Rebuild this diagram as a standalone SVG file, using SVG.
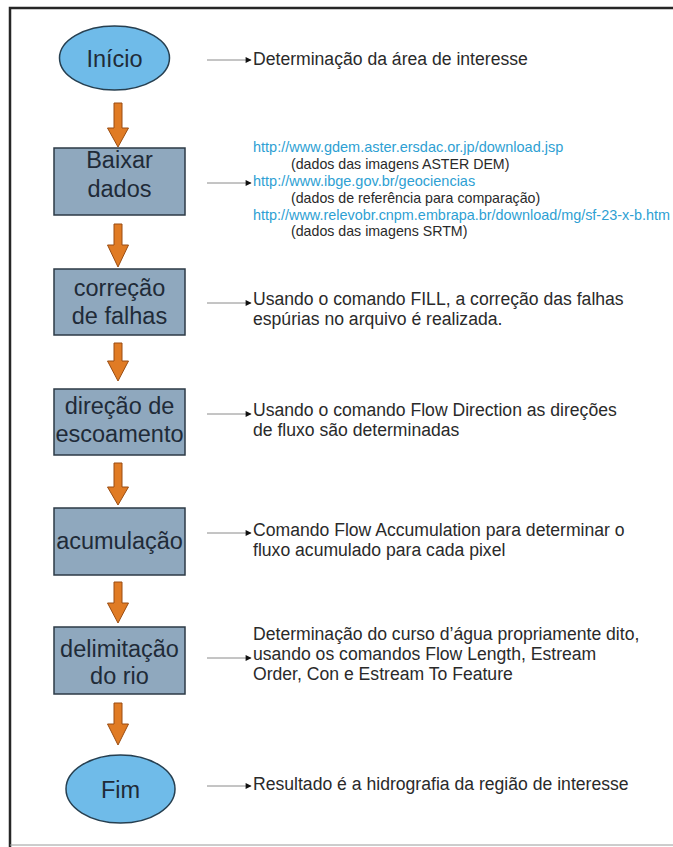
<svg xmlns="http://www.w3.org/2000/svg" width="673" height="847" viewBox="0 0 673 847">
<defs>
<style>
.frame{fill:none;stroke:#262626;stroke-width:2.5}
.box{fill:#8fa8be;stroke:#2c3a46;stroke-width:1.5}
.ell{fill:#6fbbe9;stroke:#263f50;stroke-width:1.5}
.nt{font-family:"Liberation Sans",Arial,sans-serif;font-size:23.5px;fill:#1f2b38;text-anchor:middle}
.dt{font-family:"Liberation Sans",Arial,sans-serif;font-size:17.6px;fill:#2a2a2a}
.url{font-family:"Liberation Sans",Arial,sans-serif;font-size:14.5px;fill:#2e9fd3}
.sub{font-family:"Liberation Sans",Arial,sans-serif;font-size:14.2px;fill:#2a2a2a}
.flow{fill:#e07b24;stroke:#9a4d12;stroke-width:1}
.ptr{stroke:#8a8a8a;stroke-width:1;fill:none;marker-end:url(#ah)}
</style>
<marker id="ah" viewBox="0 0 10 10" refX="9" refY="5" markerWidth="9" markerHeight="6" markerUnits="userSpaceOnUse" orient="auto">
<path d="M0,0 L10,5 L0,10 z" fill="#111"/>
</marker>
</defs>
<rect width="673" height="847" fill="#ffffff"/>
<path class="frame" d="M10,850 V8 H690"/>
<line x1="10" y1="845" x2="673" y2="845" stroke="#9a9a9a" stroke-width="1"/>

<g id="connectors">
<polygon class="flow" points="114,103 122,103 122,128 128.5,128 118,147 107.5,128 114,128"/>
<polygon class="flow" points="114,224 122,224 122,245 128.5,245 118,267 107.5,245 114,245"/>
<polygon class="flow" points="114,343 122,343 122,361 128.5,361 118,381 107.5,361 114,361"/>
<polygon class="flow" points="114,463 122,463 122,487 128.5,487 118,505 107.5,487 114,487"/>
<polygon class="flow" points="114,582 122,582 122,603 128.5,603 118,623 107.5,603 114,603"/>
<polygon class="flow" points="114,703 122,703 122,724 128.5,724 118,745 107.5,724 114,724"/>
<line class="ptr" x1="207" y1="60" x2="251" y2="60"/>
<line class="ptr" x1="207" y1="183" x2="251" y2="183"/>
<line class="ptr" x1="207" y1="303" x2="251" y2="303"/>
<line class="ptr" x1="207" y1="414" x2="251" y2="414"/>
<line class="ptr" x1="207" y1="533" x2="251" y2="533"/>
<line class="ptr" x1="207" y1="658" x2="251" y2="658"/>
<line class="ptr" x1="207" y1="786" x2="251" y2="786"/>
</g>

<g id="inicio">
<ellipse class="ell" cx="114.5" cy="58" rx="55" ry="32"/>
<text class="nt" x="114.5" y="67">Início</text>
</g>
<g id="baixar">
<rect class="box" x="54" y="148" width="131" height="67"/>
<text class="nt" x="119.5" y="168">Baixar</text>
<text class="nt" x="119.5" y="197">dados</text>
</g>
<g id="correcao">
<rect class="box" x="54" y="269" width="131" height="66"/>
<text class="nt" x="119.5" y="296">correção</text>
<text class="nt" x="119.5" y="324">de falhas</text>
</g>
<g id="direcao">
<rect class="box" x="54" y="389" width="131" height="66"/>
<text class="nt" x="119.5" y="414">direção de</text>
<text class="nt" x="119.5" y="442">escoamento</text>
</g>
<g id="acumulacao">
<rect class="box" x="54" y="508" width="131" height="67"/>
<text class="nt" x="119.5" y="549">acumulação</text>
</g>
<g id="delimitacao">
<rect class="box" x="54" y="627" width="131" height="67"/>
<text class="nt" x="119.5" y="657">delimitação</text>
<text class="nt" x="119.5" y="684">do rio</text>
</g>
<g id="fim">
<ellipse class="ell" cx="120.5" cy="789" rx="54.5" ry="34"/>
<text class="nt" x="120.5" y="798">Fim</text>
</g>

<g id="desc1">
<text class="dt" x="253" y="65">Determinação da área de interesse</text>
</g>
<g id="desc2">
<text class="url" x="253" y="152">http://www.gdem.aster.ersdac.or.jp/download.jsp</text>
<text class="sub" x="291" y="169">(dados das imagens ASTER DEM)</text>
<text class="url" x="253" y="186">http://www.ibge.gov.br/geociencias</text>
<text class="sub" x="291" y="203">(dados de referência para comparação)</text>
<text class="url" x="253" y="220" textLength="417" lengthAdjust="spacingAndGlyphs">http://www.relevobr.cnpm.embrapa.br/download/mg/sf-23-x-b.htm</text>
<text class="sub" x="291" y="236">(dados das imagens SRTM)</text>
</g>
<g id="desc3">
<text class="dt" x="253" y="305">Usando o comando FILL, a correção das falhas</text>
<text class="dt" x="253" y="325">espúrias no arquivo é realizada.</text>
</g>
<g id="desc4">
<text class="dt" x="253" y="416">Usando o comando Flow Direction as direções</text>
<text class="dt" x="253" y="436">de fluxo são determinadas</text>
</g>
<g id="desc5">
<text class="dt" x="253" y="536">Comando Flow Accumulation para determinar o</text>
<text class="dt" x="253" y="556">fluxo acumulado para cada pixel</text>
</g>
<g id="desc6">
<text class="dt" x="253" y="640">Determinação do curso d’água propriamente dito,</text>
<text class="dt" x="253" y="660">usando os comandos Flow Length, Estream</text>
<text class="dt" x="253" y="680">Order, Con e Estream To Feature</text>
</g>
<g id="desc7">
<text class="dt" x="253" y="790">Resultado é a hidrografia da região de interesse</text>
</g>
</svg>
